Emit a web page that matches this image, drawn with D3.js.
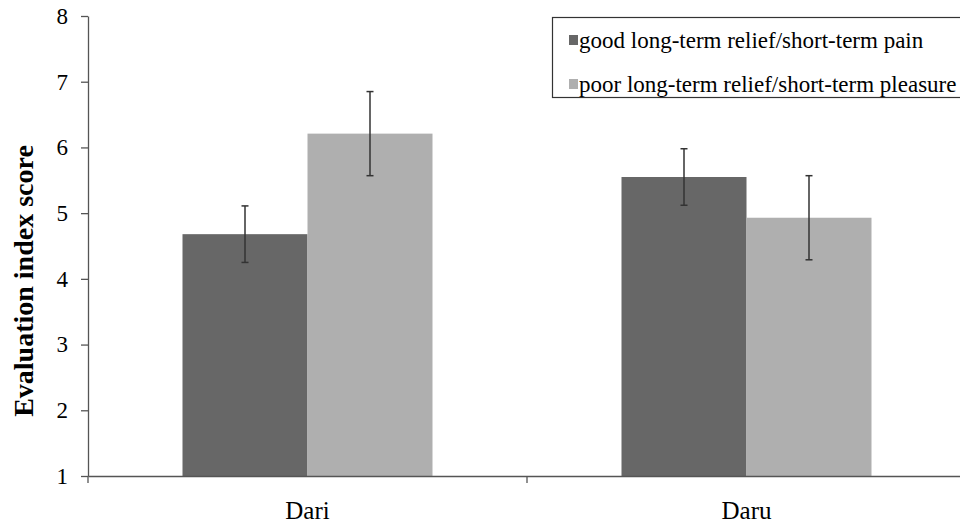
<!DOCTYPE html>
<meta charset="utf-8">
<head>
  <script src="https://cdn.jsdelivr.net/npm/d3@7"></script>
</head>
<style>
  body { margin: 0; background: white; }
  svg text { font-family: "Liberation Serif", "Times New Roman", serif; fill: #000; }
</style>
<body>
<div id="chart"></div>
<script>
// data
const categories = ["Dari", "Daru"];
const seriesNames = ["good long-term relief/short-term pain", "poor long-term relief/short-term pleasure"];
const goodMeans = [4.68, 5.55];
const goodErr = [0.43, 0.43];
const poorMeans = [6.21, 4.93];
const poorErr = [0.64, 0.64];
const yTicks = [1, 2, 3, 4, 5, 6, 7, 8];

const colors = ["#676767", "#afafaf"];
const serif = '"Liberation Serif", "Times New Roman", serif';

const width = 960, height = 523;
const margin = {top: 16, right: -6, bottom: 47, left: 88};

const svg = d3.select("#chart").append("svg")
  .attr("width", width)
  .attr("height", height);

const rows = [];
categories.forEach(function(c, i) {
  rows.push({cat: c, s: seriesNames[0], v: goodMeans[i], e: goodErr[i]});
  rows.push({cat: c, s: seriesNames[1], v: poorMeans[i], e: poorErr[i]});
});

const x0 = d3.scaleBand()
  .domain(categories)
  .range([margin.left, width - margin.right])
  .paddingInner(0).paddingOuter(0);

const x1 = d3.scaleBand()
  .domain(seriesNames)
  .range([0, x0.bandwidth()])
  .paddingInner(0).paddingOuter(0.756);

const y = d3.scaleLinear()
  .domain([1, 8])
  .range([height - margin.bottom, margin.top]);

const color = d3.scaleOrdinal().domain(seriesNames).range(colors);

// bars
svg.append("g")
  .selectAll("rect")
  .data(rows)
  .enter().append("rect")
  .attr("x", function(d) { return x0(d.cat) + x1(d.s); })
  .attr("y", function(d) { return y(d.v); })
  .attr("width", x1.bandwidth())
  .attr("height", function(d) { return y(1) - y(d.v); })
  .attr("fill", function(d) { return color(d.s); });

// error bars
const err = svg.append("g")
  .attr("stroke", "#333")
  .attr("stroke-width", 1.5)
  .selectAll("g")
  .data(rows)
  .enter().append("g")
  .attr("transform", function(d) { return "translate(" + (x0(d.cat) + x1(d.s) + x1.bandwidth() / 2) + ",0)"; });
err.append("line")
  .attr("y1", function(d) { return y(d.v - d.e); })
  .attr("y2", function(d) { return y(d.v + d.e); });
err.append("line")
  .attr("x1", -3.5).attr("x2", 3.5)
  .attr("y1", function(d) { return y(d.v + d.e); })
  .attr("y2", function(d) { return y(d.v + d.e); });
err.append("line")
  .attr("x1", -3.5).attr("x2", 3.5)
  .attr("y1", function(d) { return y(d.v - d.e); })
  .attr("y2", function(d) { return y(d.v - d.e); });

// y axis
const yAxis = svg.append("g")
  .attr("transform", "translate(" + margin.left + ",0)")
  .attr("font-family", serif)
  .call(d3.axisLeft(y).tickValues(yTicks).tickFormat(d3.format("d"))
    .tickSize(7).tickPadding(13).tickSizeOuter(0));
yAxis.select(".domain").attr("stroke", "#555").attr("stroke-width", 1.3);
yAxis.selectAll(".tick line").attr("stroke", "#555").attr("stroke-width", 1.3);
yAxis.selectAll("text")
  .attr("font-family", serif)
  .attr("font-size", 23).attr("fill", "#000");

// x axis
const xAxis = svg.append("g")
  .attr("transform", "translate(0," + y(1) + ")")
  .call(d3.axisBottom(x0).tickSize(0).tickSizeOuter(0));
xAxis.select(".domain").attr("stroke", "#555").attr("stroke-width", 1.3);
xAxis.selectAll("text")
  .attr("font-family", serif)
  .attr("font-size", 25).attr("fill", "#000")
  .attr("dy", null)
  .attr("y", 43);
// category separators below the axis
const seps = categories.map(function(c) { return x0(c); }).concat([x0.range()[1]]);
svg.append("g")
  .selectAll("line")
  .data(seps)
  .enter().append("line")
  .attr("x1", function(d) { return d; })
  .attr("x2", function(d) { return d; })
  .attr("y1", y(1))
  .attr("y2", y(1) + 7)
  .attr("stroke", "#555")
  .attr("stroke-width", 1.3);

// y axis title
svg.append("text")
  .attr("transform", "translate(33," + 281 + ") rotate(-90)")
  .attr("text-anchor", "middle")
  .attr("font-family", serif)
  .attr("font-size", 28)
  .attr("font-weight", "bold")
  .text("Evaluation index score");

// legend
const legend = svg.append("g");
legend.append("rect")
  .attr("x", 552.5).attr("y", 17.5)
  .attr("width", 420).attr("height", 80)
  .attr("fill", "white")
  .attr("stroke", "#333")
  .attr("stroke-width", 1.2);
const item = legend.selectAll("g")
  .data(seriesNames)
  .enter().append("g")
  .attr("transform", function(d, i) { return "translate(569," + (48 + i * 44) + ")"; });
item.append("rect")
  .attr("y", -13)
  .attr("width", 9).attr("height", 10)
  .attr("fill", function(d) { return color(d); });
item.append("text")
  .attr("x", 10)
  .attr("y", 0)
  .attr("font-family", serif)
  .attr("font-size", 23)
  .text(function(d) { return d; });
</script>
</body>
